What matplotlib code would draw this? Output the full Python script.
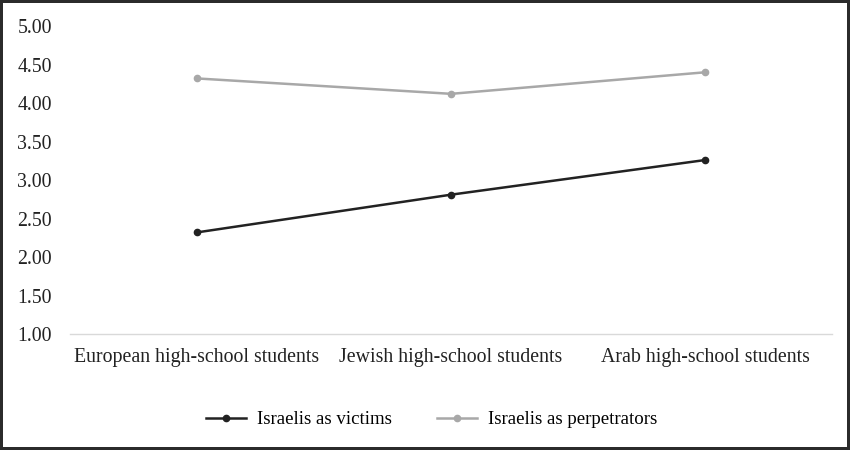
import matplotlib
matplotlib.use("Agg")
import matplotlib.pyplot as plt

categories = ["European high-school students", "Jewish high-school students", "Arab high-school students"]
victims = [2.32, 2.81, 3.26]
perpetrators = [4.32, 4.12, 4.40]
yticks = [1.0, 1.5, 2.0, 2.5, 3.0, 3.5, 4.0, 4.5, 5.0]

plt.rcParams['font.family'] = ['Liberation Serif', 'DejaVu Serif']

fig = plt.figure(figsize=(8.5, 4.5), dpi=100)
fig.patch.set_facecolor('white')
fig.patch.set_edgecolor('#2b2b2b')
fig.patch.set_linewidth(3)
ax = fig.add_axes([0.0824, 0.2578, 0.8966, 0.6842])

x = list(range(len(categories)))
ax.plot(x, victims, color='#222222', lw=1.8, marker='o', ms=4.5, label='Israelis as victims')
ax.plot(x, perpetrators, color='#a8a8a8', lw=1.8, marker='o', ms=4.5, label='Israelis as perpetrators')

ax.set_xlim(-0.5, 2.5)
ax.set_ylim(1.0, 5.0)
ax.set_yticks(yticks)
ax.set_yticklabels([f"{v:.2f}" for v in yticks])
ax.set_xticks(x)
ax.set_xticklabels(categories)
ax.tick_params(axis='both', length=0, labelsize=14.3, colors='#222222')
ax.tick_params(axis='y', pad=13)
ax.tick_params(axis='x', pad=10)
for s in ['top', 'right', 'left']:
    ax.spines[s].set_visible(False)
ax.spines['bottom'].set_color('#d9d9d9')
ax.spines['bottom'].set_linewidth(1)

fig.legend(loc='center', bbox_to_anchor=(0.508, 0.067), ncol=2, frameon=False,
           fontsize=13.6, handlelength=2.1, columnspacing=2.4, handletextpad=0.6)

fig.savefig('out.png', dpi=100, facecolor=fig.get_facecolor(), edgecolor=fig.get_edgecolor())
